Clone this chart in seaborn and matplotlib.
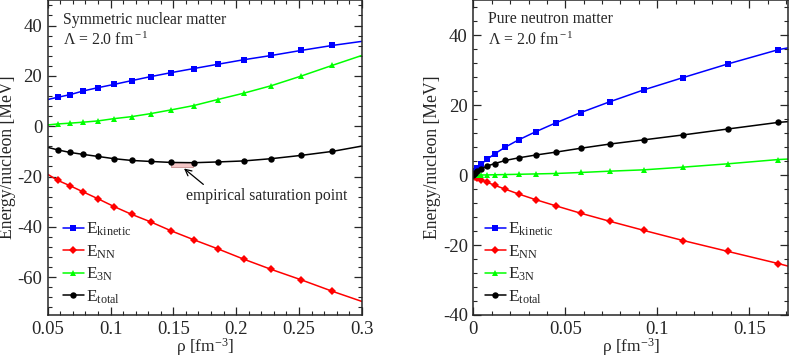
import numpy as np
import matplotlib
matplotlib.use('Agg')
import matplotlib.pyplot as plt
import seaborn as sns
from matplotlib.patches import Rectangle
from matplotlib.ticker import MultipleLocator, FormatStrFormatter

# symmetric nuclear matter (markers); edge values only continue the lines
snm_rho = [0.0579, 0.0675, 0.0782, 0.0899, 0.1027, 0.1167, 0.1319, 0.1484,
           0.1662, 0.1853, 0.2059, 0.2280, 0.2516, 0.2767]
snm_kin = [11.5, 12.5, 14.0, 15.3, 16.6, 18.1, 19.7, 21.3, 22.9, 24.6, 26.4, 28.1, 30.1, 32.1]
snm_nn = [-21.5, -23.6, -26.1, -28.8, -31.9, -35.0, -38.0, -41.6, -45.1, -48.7, -52.8, -56.9, -61.0, -65.6]
snm_3n = [0.9, 1.2, 1.6, 2.1, 3.0, 3.8, 5.0, 6.5, 8.2, 10.6, 13.1, 16.1, 19.9, 24.2]
snm_tot = [-9.4, -10.4, -11.2, -12.0, -12.9, -13.6, -14.0, -14.4, -14.5, -14.2, -13.8, -12.9, -11.6, -10.0]
snm_edge_rho = [0.05, 0.30]
snm_edge = {'kin': [10.6, 33.7], 'nn': [-19.1, -69.6], '3n': [0.5, 28.1], 'tot': [-8.4, -7.9]}

# pure neutron matter
pnm_rho = [0.00003, 0.00027, 0.00091, 0.00216, 0.00422, 0.0073, 0.0116, 0.0173, 0.0246,
           0.0338, 0.0450, 0.0584, 0.0742, 0.0927, 0.1140, 0.1383, 0.1659]
pnm_kin = [0.1, 0.5, 1.1, 2.0, 3.1, 4.5, 6.1, 8.0, 10.1, 12.4, 15.0, 17.9, 21.0, 24.4, 27.9, 31.8, 35.9]
pnm_nn = [-0.05, -0.2, -0.5, -0.9, -1.4, -2.0, -2.9, -4.0, -5.4, -7.0, -8.8, -10.9, -13.2, -15.8,
          -18.7, -21.8, -25.3]
pnm_3n = [0.0, 0.0, 0.0, 0.02, 0.04, 0.07, 0.11, 0.17, 0.25, 0.35, 0.48, 0.76, 1.14, 1.52, 2.29, 3.24, 4.47]
pnm_tot = [0.05, 0.3, 0.6, 1.1, 1.7, 2.6, 3.3, 4.2, 4.95, 5.75, 6.6, 7.7, 8.9, 10.1, 11.5, 13.2, 15.1]
pnm_edge_rho = 0.171
pnm_edge = {'kin': 36.4, 'nn': -26.0, '3n': 4.6, 'tot': 15.3}

# empirical saturation region
sat_rho = [0.148, 0.166]
sat_e = [-16.2, -14.2]

components = ['kin', 'nn', '3n', 'tot']
labels = {'kin': r'E$_{\rm kinetic}$', 'nn': r'E$_{\rm NN}$', '3n': r'E$_{\rm 3N}$', 'tot': r'E$_{\rm total}$'}
styles = {'kin': ('#0000ff', 's', 4.2), 'nn': ('#ff0000', 'D', 4.4),
          '3n': ('#00ff00', '^', 5.0), 'tot': ('#000000', 'o', 4.6)}

sns.set_style('ticks')
plt.rcParams.update({
    'font.family': ['Liberation Serif', 'DejaVu Serif'],
    'mathtext.fontset': 'custom',
    'mathtext.rm': 'Liberation Serif',
    'mathtext.it': 'Liberation Serif:italic',
    'axes.unicode_minus': False,
    'axes.linewidth': 1.1,
    'xtick.direction': 'in', 'ytick.direction': 'in',
    'xtick.top': True, 'ytick.right': True,
    'xtick.major.size': 6, 'ytick.major.size': 6,
    'xtick.minor.size': 3, 'ytick.minor.size': 3,
    'xtick.major.width': 0.9, 'ytick.major.width': 0.9,
    'xtick.minor.width': 0.8, 'ytick.minor.width': 0.8,
    'xtick.minor.visible': True, 'ytick.minor.visible': True,
})

fig = plt.figure(figsize=(7.89, 3.59), dpi=100)
ax1 = fig.add_axes([0.0605, 0.1226, 0.398, 0.8764])
ax2 = fig.add_axes([0.600, 0.1226, 0.3985, 0.8764])

snm = {'kin': snm_kin, 'nn': snm_nn, '3n': snm_3n, 'tot': snm_tot}
pnm = {'kin': pnm_kin, 'nn': pnm_nn, '3n': pnm_3n, 'tot': pnm_tot}

for c in components:
    color, mk, ms = styles[c]
    x = [snm_edge_rho[0]] + snm_rho + [snm_edge_rho[1]]
    y = [snm_edge[c][0]] + snm[c] + [snm_edge[c][1]]
    sns.lineplot(x=x, y=y, ax=ax1, color=color, marker=mk, markersize=ms, markeredgewidth=0,
                 markevery=list(range(1, len(x) - 1)), linewidth=1.1, label=labels[c], sort=False)
    x = pnm_rho + [pnm_edge_rho]
    y = pnm[c] + [pnm_edge[c]]
    sns.lineplot(x=x, y=y, ax=ax2, color=color, marker=mk, markersize=ms, markeredgewidth=0,
                 markevery=list(range(len(x) - 1)), linewidth=1.1, label=labels[c], sort=False)

ax1.add_patch(Rectangle((sat_rho[0], sat_e[0]), sat_rho[1] - sat_rho[0], sat_e[1] - sat_e[0],
                        facecolor='#f4c6c6', edgecolor='#c89090', linewidth=0.6, zorder=1))
ax1.annotate('empirical saturation point', xy=(0.1585, -16.8), xytext=(0.2246, -27.6),
             ha='center', va='center', fontsize=11.3,
             arrowprops=dict(arrowstyle='->', color='black', lw=0.9,
                             shrinkA=0, shrinkB=0, relpos=(0.13, 1.0)))

ax1.set_xlim(0.05, 0.30)
ax1.set_ylim(-75, 50)
ax2.set_xlim(0, 0.171)
ax2.set_ylim(-40, 50)
legend_x = {ax1: 0.048, ax2: 0.036}
for ax in (ax1, ax2):
    ax.yaxis.set_major_locator(MultipleLocator(20))
    ax.yaxis.set_minor_locator(MultipleLocator(4))
    ax.xaxis.set_major_locator(MultipleLocator(0.05))
    ax.xaxis.set_minor_locator(MultipleLocator(0.01))
    ax.xaxis.set_major_formatter(FormatStrFormatter('%g'))
    ax.tick_params(labelsize=13.5, pad=4)
    ax.set_xlabel(r'ρ [fm$^{-3}$]', fontsize=12.5, labelpad=-1)
    ax.set_ylabel('Energy/nucleon [MeV]', fontsize=12.7, labelpad=1)
    for s in ax.spines.values():
        s.set_visible(True)
    ax.legend(loc='upper left', bbox_to_anchor=(legend_x[ax], 0.30), frameon=False, fontsize=12.5,
              handlelength=1.2, handletextpad=0.15, labelspacing=0.3, borderpad=0,
              borderaxespad=0)

ax1.text(0.049, 0.926, 'Symmetric nuclear matter', transform=ax1.transAxes, fontsize=11.3, va='baseline')
ax1.text(0.049, 0.857, r'Λ = 2.0 fm$^{\rm -1}$', transform=ax1.transAxes, fontsize=11.3, va='baseline')
ax2.text(0.046, 0.928, 'Pure neutron matter', transform=ax2.transAxes, fontsize=11.3, va='baseline')
ax2.text(0.046, 0.857, r'Λ = 2.0 fm$^{\rm -1}$', transform=ax2.transAxes, fontsize=11.3, va='baseline')

fig.savefig('out.png', dpi=100)
